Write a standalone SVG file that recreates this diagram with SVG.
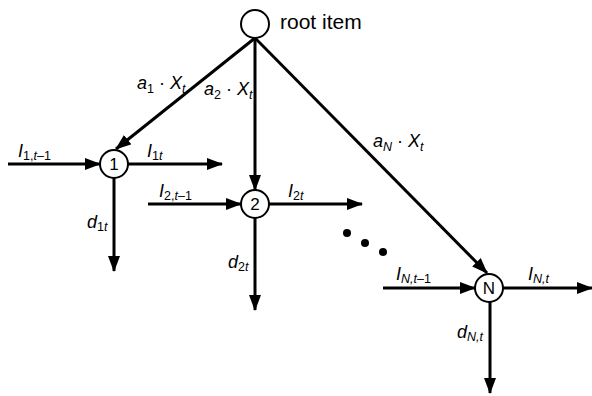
<svg xmlns="http://www.w3.org/2000/svg" width="592" height="396" viewBox="0 0 592 396">
<defs>
<marker id="ah" markerUnits="userSpaceOnUse" markerWidth="16" markerHeight="12" refX="15" refY="6" orient="auto">
<path d="M0,0 L16,6 L0,12 Z" fill="#000"/>
</marker>
<style>
.n{fill:#fff;stroke:#000;stroke-width:2}
.e{stroke:#000;stroke-width:3;fill:none;marker-end:url(#ah)}
text{font-family:"Liberation Sans",Arial,sans-serif;fill:#000}
.m{font-size:18px;font-style:italic}
.s{font-size:12.5px}
.u{font-style:normal}
.lbl{font-size:17px;text-anchor:middle}
</style>
</defs>
<rect width="592" height="396" fill="#fff"/>
<g id="connectors">
<line class="e" x1="255" y1="38" x2="116" y2="149"/>
<line class="e" x1="255" y1="38" x2="255" y2="190"/>
<line class="e" x1="255" y1="38" x2="487" y2="273"/>
<line class="e" x1="8" y1="164" x2="100" y2="164"/>
<line class="e" x1="128" y1="164" x2="222" y2="164"/>
<line class="e" x1="114" y1="178" x2="114" y2="271"/>
<line class="e" x1="148" y1="204" x2="241" y2="204"/>
<line class="e" x1="269" y1="204" x2="362" y2="204"/>
<line class="e" x1="255" y1="218" x2="255" y2="310"/>
<line class="e" x1="383" y1="288" x2="475" y2="288"/>
<line class="e" x1="503" y1="288" x2="592" y2="288"/>
<line class="e" x1="490" y1="302" x2="490" y2="393"/>
</g>
<g id="root">
<circle class="n" cx="255" cy="24" r="14"/>
<text x="280" y="29" style="font-size:21px">root item</text>
</g>
<g id="node1">
<circle class="n" cx="114" cy="164" r="14"/>
<text class="lbl" x="114" y="170">1</text>
</g>
<g id="node2">
<circle class="n" cx="255" cy="204" r="14"/>
<text class="lbl" x="255" y="210">2</text>
</g>
<g id="nodeN">
<circle class="n" cx="489" cy="288" r="14"/>
<text class="lbl" x="489" y="294">N</text>
</g>
<g id="dots">
<circle cx="347" cy="233" r="4"/>
<circle cx="365" cy="243" r="4"/>
<circle cx="383" cy="252" r="4"/>
</g>
<g id="labels">
<text class="m" x="137" y="89">a<tspan class="s u" dy="4">1</tspan><tspan class="u" dy="-4"> · </tspan>X<tspan class="s" dy="4">t</tspan></text>
<text class="m" x="204" y="95">a<tspan class="s u" dy="4">2</tspan><tspan class="u" dy="-4"> · </tspan>X<tspan class="s" dy="4">t</tspan></text>
<text class="m" x="373" y="147">a<tspan class="s" dy="4">N</tspan><tspan class="u" dy="-4"> · </tspan>X<tspan class="s" dy="4">t</tspan></text>
<text class="m" x="18" y="157">I<tspan class="s u" dy="3">1,</tspan><tspan class="s">t</tspan><tspan class="s u">–1</tspan></text>
<text class="m" x="147" y="157">I<tspan class="s u" dy="3">1</tspan><tspan class="s">t</tspan></text>
<text class="m" x="159" y="197">I<tspan class="s u" dy="3">2,</tspan><tspan class="s">t</tspan><tspan class="s u">–1</tspan></text>
<text class="m" x="288" y="197">I<tspan class="s u" dy="3">2</tspan><tspan class="s">t</tspan></text>
<text class="m" x="87" y="228">d<tspan class="s u" dy="3">1</tspan><tspan class="s">t</tspan></text>
<text class="m" x="228" y="268">d<tspan class="s u" dy="3">2</tspan><tspan class="s">t</tspan></text>
<text class="m" x="396" y="280">I<tspan class="s" dy="3">N,t</tspan><tspan class="s u">–1</tspan></text>
<text class="m" x="528" y="280">I<tspan class="s" dy="3">N,t</tspan></text>
<text class="m" x="457" y="338">d<tspan class="s" dy="3">N,t</tspan></text>
</g>
</svg>
